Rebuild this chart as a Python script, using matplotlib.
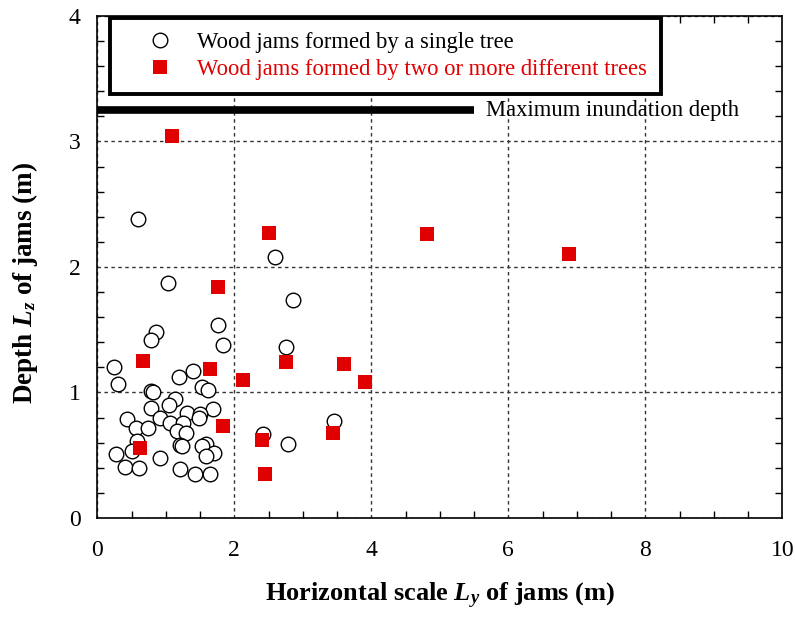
import numpy as np
import matplotlib
matplotlib.use("Agg")
import matplotlib.pyplot as plt
from matplotlib.lines import Line2D
from matplotlib.ticker import MultipleLocator

plt.rcParams['font.family'] = ['Liberation Serif', 'DejaVu Serif']
plt.rcParams['mathtext.fontset'] = 'custom'
plt.rcParams['mathtext.rm'] = 'Liberation Serif:bold'
plt.rcParams['mathtext.it'] = 'Liberation Serif:italic:bold'
plt.rcParams['mathtext.bf'] = 'Liberation Serif:bold'

# ----------------------------
# DATA
# ----------------------------
# wood jams formed by a single tree
single_ly = [0.85, 0.79, 1.83, 0.24, 1.39, 1.19, 0.30, 0.79, 0.81, 1.53,
             1.62, 1.13, 1.04, 0.79, 1.69, 1.31, 1.50, 1.48, 0.43, 0.91,
             1.06, 1.25, 0.56, 0.74, 1.16, 1.29, 0.58, 1.59, 1.20, 1.24,
             1.53, 0.27, 0.50, 1.70, 1.58, 0.92, 0.41, 0.61, 1.21, 1.42,
             1.65, 0.60, 1.03, 2.59, 2.85, 1.76, 2.75, 2.42, 2.78, 3.45]
single_lz = [1.48, 1.42, 1.38, 1.20, 1.17, 1.12, 1.07, 1.01, 1.00, 1.04,
             1.02, 0.95, 0.90, 0.88, 0.87, 0.84, 0.83, 0.80, 0.79, 0.80,
             0.76, 0.76, 0.72, 0.72, 0.69, 0.68, 0.61, 0.59, 0.58, 0.57,
             0.57, 0.51, 0.53, 0.52, 0.49, 0.48, 0.41, 0.40, 0.39, 0.35,
             0.35, 2.38, 1.87, 2.08, 1.74, 1.54, 1.36, 0.67, 0.59, 0.77]

# wood jams formed by two or more different trees
multi_ly = [1.09, 2.51, 4.82, 6.89, 1.76, 0.67, 1.64, 2.76, 3.60, 2.12,
            3.91, 1.84, 3.44, 2.41, 0.62, 2.45]
multi_lz = [3.04, 2.27, 2.26, 2.10, 1.84, 1.25, 1.19, 1.24, 1.23, 1.10,
            1.08, 0.73, 0.68, 0.62, 0.56, 0.35]

max_inundation = 3.25
inundation_extent = [0, 5.5]

red = '#e00000'

# ----------------------------
# PLOT
# ----------------------------
fig = plt.figure(figsize=(7.95, 6.17), dpi=100)
ax = fig.add_axes([0.1224, 0.1605, 0.8616, 0.8136])

ax.scatter(single_ly, single_lz, s=110, facecolors='white', edgecolors='black',
           linewidths=1.0, zorder=3)
ax.scatter(multi_ly, multi_lz, s=90, marker='s', color=red, linewidths=0,
           zorder=4)

ax.plot(inundation_extent, [max_inundation, max_inundation], color='black',
        lw=5.5, solid_capstyle='butt', zorder=3)
ax.text(5.68, max_inundation, 'Maximum inundation depth', fontsize=16.3,
        va='center', ha='left')

ax.set_xlim(0, 10)
ax.set_ylim(0, 4)
ax.xaxis.set_major_locator(MultipleLocator(2))
ax.xaxis.set_minor_locator(MultipleLocator(0.5))
ax.yaxis.set_major_locator(MultipleLocator(1))
ax.yaxis.set_minor_locator(MultipleLocator(0.2))
ax.tick_params(which='both', direction='in', top=True, right=True,
               labelsize=17, width=1, colors='black')
ax.tick_params(which='major', length=0)
ax.tick_params(axis='x', which='major', pad=16)
ax.tick_params(axis='y', which='major', pad=12)
ax.tick_params(which='minor', length=5)
ax.grid(True, which='major', color='#333333', linestyle=(0, (2.5, 2.5)), lw=1)
for sp in ax.spines.values():
    sp.set_linewidth(1.2)

ax.set_xlabel(r'Horizontal scale $L_y$ of jams (m)', fontsize=19,
              fontweight='bold', labelpad=14)
ax.set_ylabel(r'Depth $L_z$ of jams (m)', fontsize=19.5, fontweight='bold')
ax.yaxis.set_label_coords(-0.084, 0.468)

handles = [
    Line2D([], [], ls='none', marker='o', ms=10.5, mfc='white', mec='black', mew=1.0),
    Line2D([], [], ls='none', marker='s', ms=9.5, mfc=red, mec=red, mew=0),
]
labels = ['Wood jams formed by a single tree',
          'Wood jams formed by two or more different trees']
leg = ax.legend(handles, labels, loc='upper left', fontsize=16.3,
                bbox_to_anchor=(110 / 795, 1 - 18 / 617),
                bbox_transform=fig.transFigure, fancybox=False,
                framealpha=1, edgecolor='black', borderpad=0.6,
                handlelength=3.2, handletextpad=0.05, labelspacing=0.28,
                borderaxespad=0, labelcolor=['black', red])
leg.get_frame().set_linewidth(2.8)
leg.set_zorder(5)

fig.savefig('out.png', dpi=100)
